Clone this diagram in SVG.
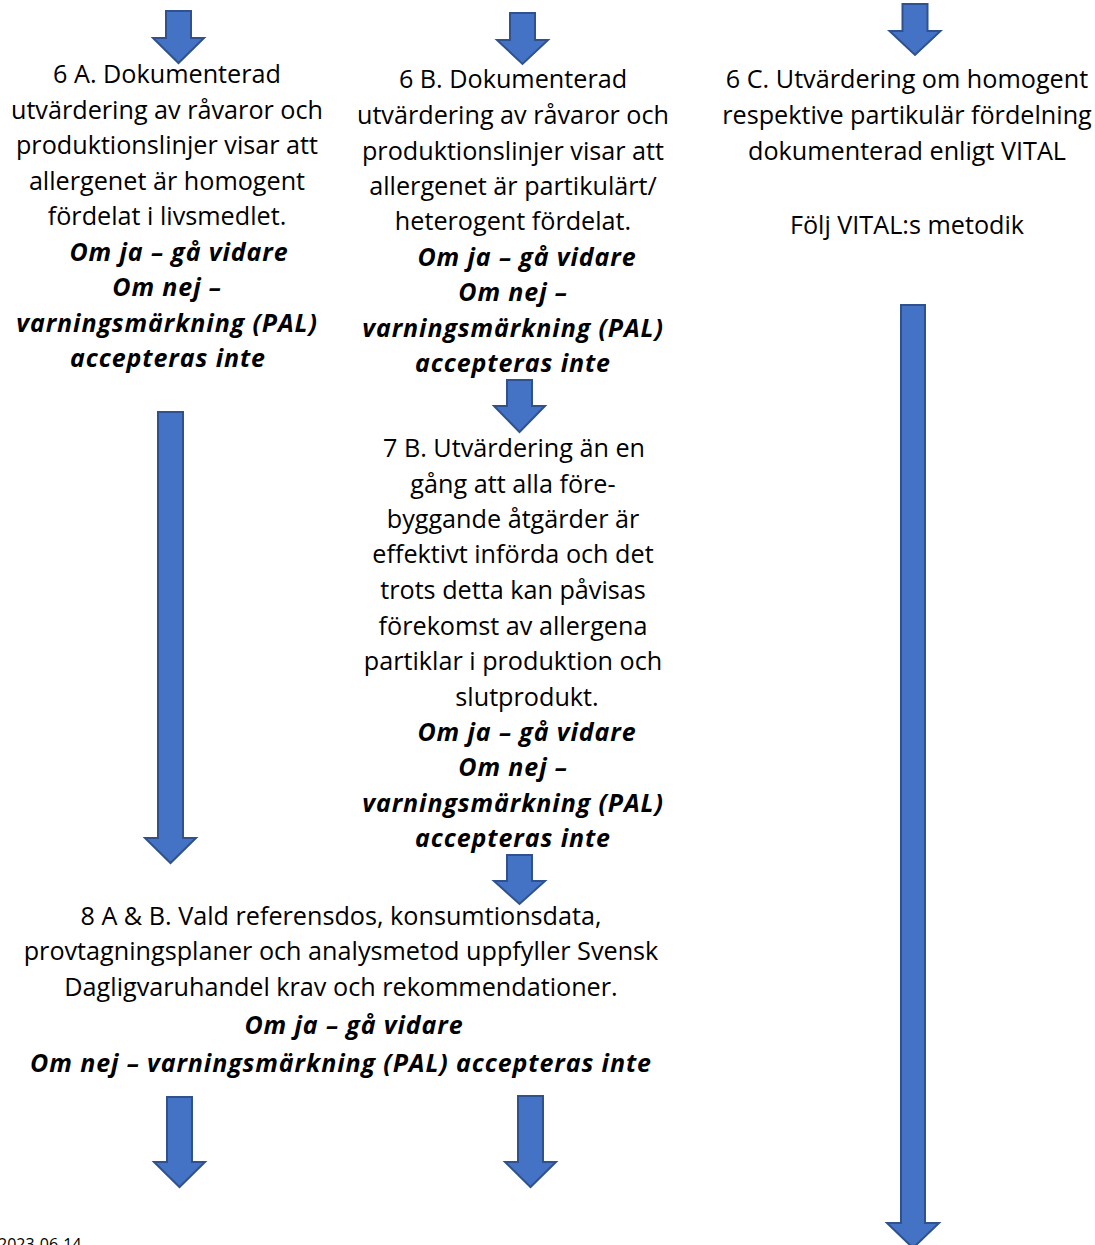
<svg xmlns="http://www.w3.org/2000/svg" width="1095" height="1245" viewBox="0 0 1095 1245">
<style>
.arr{fill:#4472C4;stroke:#2F528F;stroke-width:2;stroke-linejoin:miter}
.t{font-family:"Open Sans","Noto Sans",sans-serif;font-size:25.2px;fill:#000;text-anchor:middle}
.b{font-weight:bold;font-style:italic;font-size:25px;letter-spacing:0.9px}
.d{font-family:"Open Sans","Noto Sans",sans-serif;font-size:16px;fill:#000}
</style>
<rect width="1095" height="1245" fill="#fff"/>
<g id="connectors">
<path class="arr" d="M166,11 H191 V38 H204 L178.5,63 L153,38 H166 Z"/>
<path class="arr" d="M510,13 H535 V40 H548 L522.5,64 L497,40 H510 Z"/>
<path class="arr" d="M902.5,4 H927.5 V31 H940.5 L915,55 L889.5,31 H902.5 Z"/>
<path class="arr" d="M158,412 H183 V838 H196 L170.5,863 L145,838 H158 Z"/>
<path class="arr" d="M901,305 H925 V1223 H939 L913,1248 L887,1223 H901 Z"/>
<path class="arr" d="M507,380 H532 V406 H545 L519.5,432 L494,406 H507 Z"/>
<path class="arr" d="M507,855 H532 V881 H545 L519.5,904 L494,881 H507 Z"/>
<path class="arr" d="M167,1097 H192 V1162 H205 L179.5,1187 L154,1162 H167 Z"/>
<path class="arr" d="M518,1096 H543 V1162 H556 L530.5,1187 L505,1162 H518 Z"/>
</g>
<g id="node-6A">
<text class="t" x="167" y="83">6 A. Dokumenterad</text>
<text class="t" x="167" y="119">utvärdering av råvaror och</text>
<text class="t" x="167" y="154">produktionslinjer visar att</text>
<text class="t" x="167" y="190">allergenet är homogent</text>
<text class="t" x="167" y="225">fördelat i livsmedlet.</text>
<text class="t b" x="179" y="261">Om ja – gå vidare</text>
<text class="t b" x="167" y="296">Om nej –</text>
<text class="t b" x="167" y="332">varningsmärkning (PAL)</text>
<text class="t b" x="168" y="367">accepteras inte</text>
</g>
<g id="node-6B">
<text class="t" x="513" y="88">6 B. Dokumenterad</text>
<text class="t" x="513" y="124">utvärdering av råvaror och</text>
<text class="t" x="513" y="160">produktionslinjer visar att</text>
<text class="t" x="513" y="195">allergenet är partikulärt/</text>
<text class="t" x="513" y="230">heterogent fördelat.</text>
<text class="t b" x="527" y="266">Om ja – gå vidare</text>
<text class="t b" x="513" y="301">Om nej –</text>
<text class="t b" x="513" y="337">varningsmärkning (PAL)</text>
<text class="t b" x="513" y="372">accepteras inte</text>
</g>
<g id="node-6C">
<text class="t" x="907" y="88">6 C. Utvärdering om homogent</text>
<text class="t" x="907" y="124">respektive partikulär fördelning</text>
<text class="t" x="907" y="160">dokumenterad enligt VITAL</text>
<text class="t" x="907" y="234">Följ VITAL:s metodik</text>
</g>
<g id="node-7B">
<text class="t" x="514" y="457">7 B. Utvärdering än en</text>
<text class="t" x="513" y="493">gång att alla före-</text>
<text class="t" x="513" y="528">byggande åtgärder är</text>
<text class="t" x="513" y="563">effektivt införda och det</text>
<text class="t" x="513" y="599">trots detta kan påvisas</text>
<text class="t" x="513" y="635">förekomst av allergena</text>
<text class="t" x="513" y="670">partiklar i produktion och</text>
<text class="t" x="527" y="706">slutprodukt.</text>
<text class="t b" x="527" y="741">Om ja – gå vidare</text>
<text class="t b" x="513" y="776">Om nej –</text>
<text class="t b" x="513" y="812">varningsmärkning (PAL)</text>
<text class="t b" x="513" y="847">accepteras inte</text>
</g>
<g id="node-8AB">
<text class="t" x="341" y="925">8 A &amp; B. Vald referensdos, konsumtionsdata,</text>
<text class="t" x="341" y="960">provtagningsplaner och analysmetod uppfyller Svensk</text>
<text class="t" x="341" y="996">Dagligvaruhandel krav och rekommendationer.</text>
<text class="t b" x="354" y="1034">Om ja – gå vidare</text>
<text class="t b" x="341" y="1072">Om nej – varningsmärkning (PAL) accepteras inte</text>
</g>
<text class="d" x="-2" y="1250">2023-06-14</text>
</svg>
